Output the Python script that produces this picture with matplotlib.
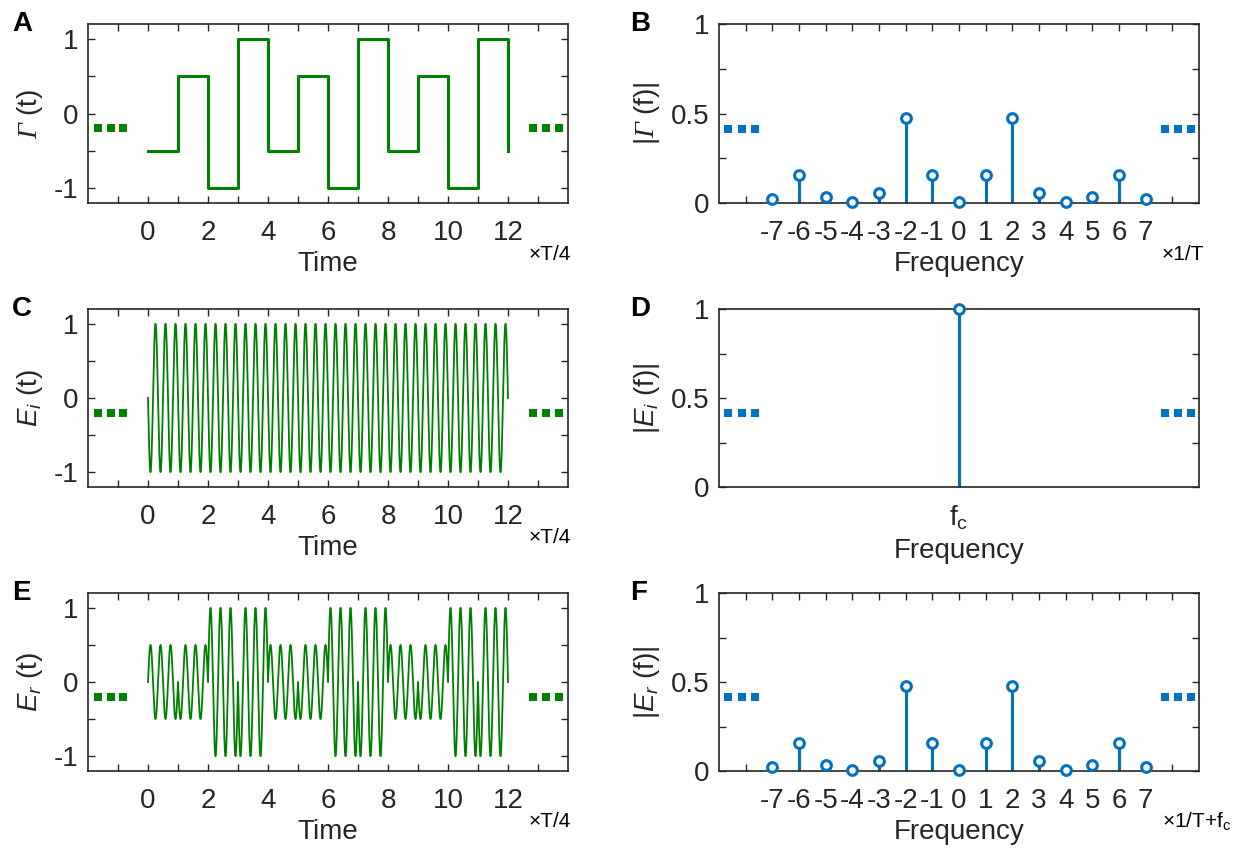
import numpy as np
import matplotlib
matplotlib.use("Agg")
import matplotlib.pyplot as plt

plt.rcParams['font.family'] = ['Liberation Sans', 'DejaVu Sans']
plt.rcParams['mathtext.fontset'] = 'custom'
# upright math slot carries the italic serif Gamma; sans slot for plain subscripts
plt.rcParams['mathtext.rm'] = 'Liberation Serif:italic'
plt.rcParams['mathtext.it'] = 'Liberation Sans:italic'
plt.rcParams['mathtext.sf'] = 'Liberation Sans'
plt.rcParams['mathtext.bf'] = 'Liberation Sans:bold'

# Reflection coefficient levels on each T/4 slot (0..12)
gamma_levels = [-0.5, 0.5, -1, 1, -0.5, 0.5, -1, 1, -0.5, 0.5, -1, 1]
gamma_end = -0.5
carrier_cycles_per_slot = 3          # carrier periods per T/4

# Spectral magnitudes of the modulation (harmonics of 1/T)
harmonics = [-7, -6, -5, -4, -3, -2, -1, 0, 1, 2, 3, 4, 5, 6, 7]
gamma_spec = [0.024, 0.155, 0.034, 0.004, 0.054, 0.477, 0.155, 0.004,
              0.155, 0.477, 0.054, 0.004, 0.034, 0.155, 0.024]
inc_freq = [0]
inc_spec = [1.0]

GREEN = '#008000'
BLUE = '#0072BD'
DARK = '#262626'
FS = 20

fig = plt.figure(figsize=(12.54, 8.51), dpi=100)
W, H = 1254, 851


def add_ax(left, top, right, bottom):
    return fig.add_axes([left / W, 1 - bottom / H, (right - left) / W, (bottom - top) / H])


rows = [(24, 203), (309, 487), (593, 771)]
axL = [add_ax(88, t, 568, b) for t, b in rows]
axR = [add_ax(719, t, 1199, b) for t, b in rows]


def style(ax):
    ax.tick_params(direction='in', top=True, right=True, length=5, width=1,
                   colors=DARK, labelsize=FS, pad=7)
    ax.tick_params(axis='x', pad=12)
    for s in ax.spines.values():
        s.set_color(DARK)
        s.set_linewidth(1.2)


# ---- time-domain panels ----
slots = np.arange(len(gamma_levels) + 1)
t = np.linspace(0, 12, 12 * 600 + 1)
idx = np.minimum(np.floor(t).astype(int), len(gamma_levels) - 1)
gamma_t = np.array(gamma_levels)[idx]
e_inc = -np.sin(2 * np.pi * carrier_cycles_per_slot * t)
e_ref = gamma_t * e_inc

axL[0].step(slots, gamma_levels + [gamma_end], where='post', color=GREEN, lw=2.2)
axL[1].plot(t, e_inc, color=GREEN, lw=1.3)
axL[2].plot(t, e_ref, color=GREEN, lw=1.3)

ylabels_t = [r'$\Gamma$ (t)', r'$E_i$ (t)', r'$E_r$ (t)']
for k, ax in enumerate(axL):
    style(ax)
    ax.set_xlim(-2, 14)
    ax.set_ylim(-1.2, 1.2)
    xt = list(range(-1, 14))
    ax.set_xticks(xt)
    ax.set_xticklabels([str(v) if (v % 2 == 0 and 0 <= v <= 12) else '' for v in xt])
    ax.set_yticks([-1, -0.5, 0, 0.5, 1])
    ax.set_yticklabels(['-1', '', '0', '', '1'])
    ax.set_xlabel('Time', fontsize=FS, color=DARK, labelpad=4)
    ax.set_ylabel(ylabels_t[k], fontsize=FS, color=DARK, labelpad=6)
    ax.text(0.917, -0.285, '×T/4', transform=ax.transAxes, fontsize=15,
            ha='left', va='center', color='black')
    ax.plot([-1.68, -1.25, -0.83], [-0.2] * 3, 's', color=GREEN, ms=5.5, mew=0)
    ax.plot([12.83, 13.25, 13.69], [-0.2] * 3, 's', color=GREEN, ms=5.5, mew=0)

# ---- frequency-domain panels ----
specs = [(harmonics, gamma_spec), (inc_freq, inc_spec), (harmonics, gamma_spec)]
ylabels_f = [r'|$\Gamma$ (f)|', r'|$E_i$ (f)|', r'|$E_r$ (f)|']
suffix = ['×1/T', None, r'×1/T+f$_\mathsf{c}$']
for k, ax in enumerate(axR):
    style(ax)
    fx, fy = specs[k]
    ml, sl, bl = ax.stem(fx, fy)
    bl.set_visible(False)
    sl.set_color(BLUE)
    sl.set_linewidth(2.2)
    ml.set_marker('o')
    ml.set_markerfacecolor('white')
    ml.set_markeredgecolor(BLUE)
    ml.set_markersize(7)
    ml.set_markeredgewidth(2.2)
    ml.set_clip_on(False)
    ml.set_zorder(5)
    ax.set_xlim(-9, 9)
    ax.set_ylim(0, 1)
    if k == 1:
        ax.set_xticks([0])
        ax.set_xticklabels([r'f$_\mathsf{c}$'])
    else:
        xt = list(range(-8, 9))
        ax.set_xticks(xt)
        ax.set_xticklabels([str(v) if abs(v) <= 7 else '' for v in xt])
    ax.set_yticks([0, 0.25, 0.5, 0.75, 1])
    ax.set_yticklabels(['0', '', '0.5', '', '1'])
    ax.set_xlabel('Frequency', fontsize=FS, color=DARK, labelpad=4)
    ax.set_ylabel(ylabels_f[k], fontsize=FS, color=DARK, labelpad=6)
    if suffix[k]:
        ax.text(0.922, -0.285, suffix[k], transform=ax.transAxes, fontsize=15,
                ha='left', va='center', color='black')
    ax.plot([-8.66, -8.15, -7.64], [0.415] * 3, 's', color=BLUE, ms=5.5, mew=0)
    ax.plot([7.71, 8.21, 8.70], [0.415] * 3, 's', color=BLUE, ms=5.5, mew=0)

# ---- panel letters ----
for (t_, b_), letters in zip(rows, [('A', 'B'), ('C', 'D'), ('E', 'F')]):
    y = 1 - t_ / H
    fig.text(12 / W, y, letters[0], fontsize=20, fontweight='bold', ha='left', va='center')
    fig.text(630 / W, y, letters[1], fontsize=20, fontweight='bold', ha='left', va='center')

fig.savefig('out.png', dpi=100)
